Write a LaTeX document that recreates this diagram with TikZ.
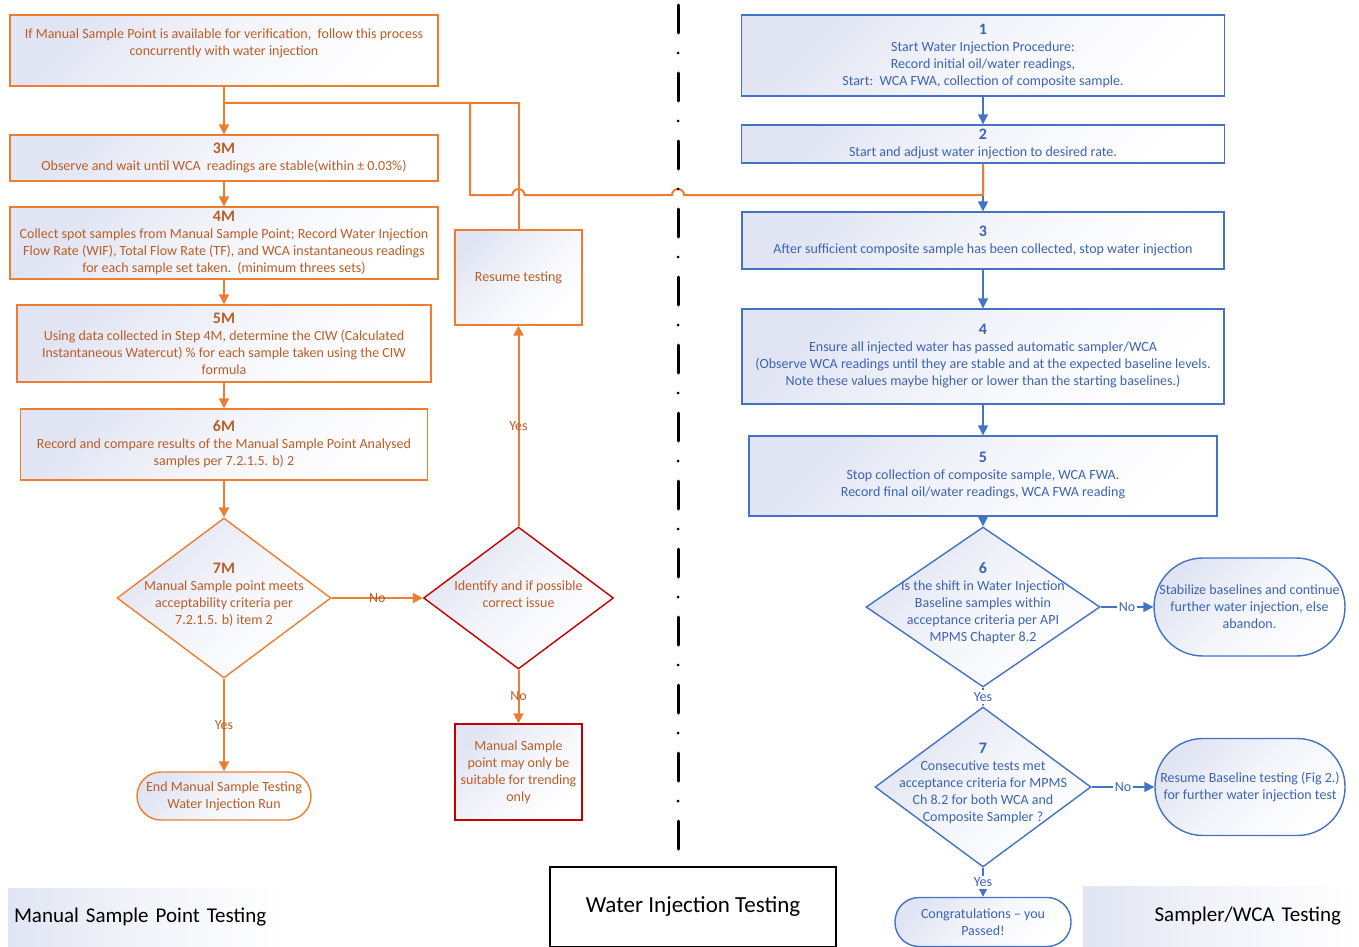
\documentclass[tikz,border=0pt]{standalone}
\usepackage{fontspec}
\setmainfont{Carlito}
\usetikzlibrary{shapes.geometric, arrows.meta, positioning, calc}
\definecolor{orngA}{HTML}{ED7D31}
\definecolor{orngT}{HTML}{BA5E26}
\definecolor{orngH}{HTML}{A24E1A}
\definecolor{redA}{HTML}{C00000}
\definecolor{blueA}{HTML}{4472C4}
\definecolor{blueT}{HTML}{3C64B4}
\definecolor{lavC}{HTML}{E1E4F3}

\newcommand{\stepno}[1]{{\fontsize{8}{9.5}\selectfont\bfseries #1}}
\newcommand{\dtext}[2]{\makebox[0pt]{\smash{\parbox[c]{#1}{\centering #2}}}}

\begin{document}
\begin{tikzpicture}[
  x=0.5pt, y=-0.5pt,
  basebox/.style={
    top color=lavC, bottom color=white, middle color=lavC!35, shading angle=45,
    font=\fontsize{7}{8.5}\selectfont,
    align=center, inner sep=0.5pt,
    line width=0.7pt
  },
  obox/.style={basebox, draw=orngA, text=orngT},
  rbox/.style={basebox, draw=redA, text=orngT},
  bbox/.style={basebox, draw=blueA, text=blueT},
  odec/.style={basebox, diamond, draw=#1, text=orngT},
  bdec/.style={basebox, diamond, draw=blueA, text=blueT},
  oterm/.style={obox, rounded corners=12pt},
  bterm/.style={bbox, rounded corners=#1},
  tagbox/.style={
    left color=lavC, right color=white, middle color=lavC!40,
    font=\fontsize{10.5}{12}\selectfont, text=black
  },
  oarr/.style={-{Triangle[length=5pt,width=5pt]}, orngA, line width=1pt},
  oline/.style={orngA, line width=1pt},
  barr/.style={-{Triangle[length=5pt,width=5pt]}, blueA, line width=0.8pt},
  olbl/.style={text=orngT, font=\fontsize{7}{8.5}\selectfont, inner sep=1pt},
  blbl/.style={text=blueT, font=\fontsize{7}{8.5}\selectfont, inner sep=1pt, fill=white},
  divider/.style={black, line width=1.5pt, line cap=round,
    dash pattern=on 14pt off 10pt on 0pt off 10pt}
]
\useasboundingbox (0,0) rectangle (1359,947);

%% ═══ MANUAL SAMPLE POINT (left column) ═══
\node[obox, minimum width=214pt, minimum height=35.5pt] (intro) at (224,50.5)
  {If Manual Sample Point is available for verification,\ \ follow this process\\
   concurrently with water injection\\ \mbox{}};

\node[obox, minimum width=214pt, minimum height=23pt] (m3) at (224,158)
  {\stepno{3M}\\ Observe and wait until WCA\ \ readings are stable(within ± 0.03\%)};
\draw[oarr] (intro) -- (m3);

\node[obox, minimum width=214pt, minimum height=36pt] (m4) at (224,243)
  {\stepno{4M}\\ Collect spot samples from Manual Sample Point; Record Water Injection\\
   Flow Rate (WIF), Total Flow Rate (TF), and WCA instantaneous readings\\
   for each sample set taken.\ \ (minimum threes sets)};
\draw[oarr] (m3) -- (m4);

\node[obox, minimum width=207pt, minimum height=38.5pt] (m5) at (224,343.5)
  {\stepno{5M}\\ Using data collected in Step 4M, determine the CIW (Calculated\\
   Instantaneous Watercut) \% for each sample taken using the CIW\\ formula};
\draw[oarr] (m4) -- (m5);

\node[obox, minimum width=203.5pt, minimum height=35.5pt] (m6) at (224,444.5)
  {\stepno{6M}\\ Record and compare results of the Manual Sample Point Analysed\\
   samples per 7.2.1.5. b) 2};
\draw[oarr] (m5) -- (m6);

\node[odec=orngA, minimum width=107pt, minimum height=80pt] (m7) at (224,598)
  {\dtext{100pt}{\stepno{7M}\\ Manual Sample point meets\\ acceptability criteria per\\ 7.2.1.5. b) item 2}};
\draw[oarr] (m6) -- (m7);

\node[oterm, minimum width=87pt, minimum height=24pt] (endm) at (224,796)
  {End Manual Sample Testing\\ Water Injection Run};
\draw[oarr] (m7) -- node[olbl] {Yes} (endm);

\node[odec=redA, minimum width=95pt, minimum height=71pt] (ident) at (518.5,598)
  {\dtext{90pt}{Identify and if possible\\ correct issue}};
\draw[oarr] (m7) -- node[olbl] {No} (ident);

\node[rbox, minimum width=63.5pt, minimum height=48pt] (trend) at (518.5,772)
  {Manual Sample\\ point may only be\\ suitable for trending\\ only};
\draw[oarr] (ident) -- node[olbl] {No} (trend);

\node[obox, minimum width=63.5pt, minimum height=47.5pt] (resume) at (518.5,277.5)
  {Resume testing};
\draw[oarr] (ident) -- node[olbl] {Yes} (resume);

%% return path into 3M (with line hops)
\coordinate (tee) at (224,103);
\coordinate (hopB) at (684,195);
\coordinate (hopA) at (524.5,195);
\coordinate (loopL) at (470,195);
\draw[oline] (resume.north) |- (tee);

%% ═══ SAMPLER / WCA (right column) ═══
\node[bbox, minimum width=241.5pt, minimum height=40.5pt] (s1) at (983,55.5)
  {\stepno{1}\\ Start Water Injection Procedure:\\ Record initial oil/water readings,\\
   Start:\ \ WCA FWA, collection of composite sample.};

\node[bbox, minimum width=241.5pt, minimum height=19pt] (s2) at (983,144)
  {\stepno{2}\\ Start and adjust water injection to desired rate.};
\draw[barr] (s1) -- (s2);

\node[bbox, minimum width=241pt, minimum height=28.5pt] (s3) at (983,240.5)
  {\stepno{3}\\ After sufficient composite sample has been collected, stop water injection};
\draw[barr] (s2) -- (s3);

\draw[oline] (s2.south) |- (hopB) arc[start angle=0, end angle=180, radius=3pt]
  -- (hopA) arc[start angle=0, end angle=180, radius=3pt] -- (loopL) |- (tee);

\node[bbox, minimum width=241pt, minimum height=47.5pt] (s4) at (983,356.5)
  {\stepno{4}\\ Ensure all injected water has passed automatic sampler/WCA\\
   (Observe WCA readings until they are stable and at the expected baseline levels.\\
   Note these values maybe higher or lower than the starting baselines.)};
\draw[barr] (s3) -- (s4);

\node[bbox, minimum width=234pt, minimum height=40pt] (s5) at (983,476)
  {\stepno{5}\\ Stop collection of composite sample, WCA FWA.\\
   Record final oil/water readings, WCA FWA reading};
\draw[barr] (s4) -- (s5);

\node[bdec, minimum width=117pt, minimum height=80pt] (d6) at (983,607)
  {\dtext{110pt}{\stepno{6}\\ Is the shift in Water Injection\\ Baseline samples within\\
   acceptance criteria per API\\ MPMS Chapter 8.2}};
\draw[barr] (s5) -- (d6);

\node[bterm=24.5pt, minimum width=95.5pt, minimum height=49pt] (stab) at (1249.5,607)
  {Stabilize baselines and continue\\ further water injection, else\\ abandon.};
\draw[barr] (d6) -- node[blbl] {No} (stab);

\node[bdec, minimum width=108pt, minimum height=80pt] (d7) at (983,787)
  {\dtext{110pt}{\stepno{7}\\ Consecutive tests met\\ acceptance criteria for MPMS\\
   Ch 8.2 for both WCA and\\ Composite Sampler ?}};
\draw[barr] (d6) -- node[blbl] {Yes} (d7);

\node[bterm=24pt, minimum width=95pt, minimum height=48.5pt] (resb) at (1250,787)
  {Resume Baseline testing (Fig 2.)\\ for further water injection test};
\draw[barr] (d7) -- node[blbl] {No} (resb);

\node[bterm=12pt, minimum width=88pt, minimum height=24.5pt] (congr) at (983,922)
  {Congratulations – you\\ Passed!};
\draw[barr] (d7) -- node[blbl] {Yes} (congr);

%% ═══ DIVIDER + SECTION TAGS ═══
\draw[divider] (678,5) -- (678,849);

\node[tagbox, minimum height=29.5pt, text width=132.5pt, inner xsep=3pt, align=left]
  (tagL) at (146.5,917.5) {Manual Sample Point Testing};
\node[draw=black, line width=0.6pt, minimum width=143pt, minimum height=40pt,
  font=\fontsize{11.5}{13}\selectfont] (tagC) at (693,907) {Water Injection Testing};
\node[tagbox, minimum height=30.5pt, text width=120pt, inner xsep=9pt, align=right]
  (tagR) at (1221,916.5) {Sampler/WCA Testing};

\end{tikzpicture}
\end{document}
